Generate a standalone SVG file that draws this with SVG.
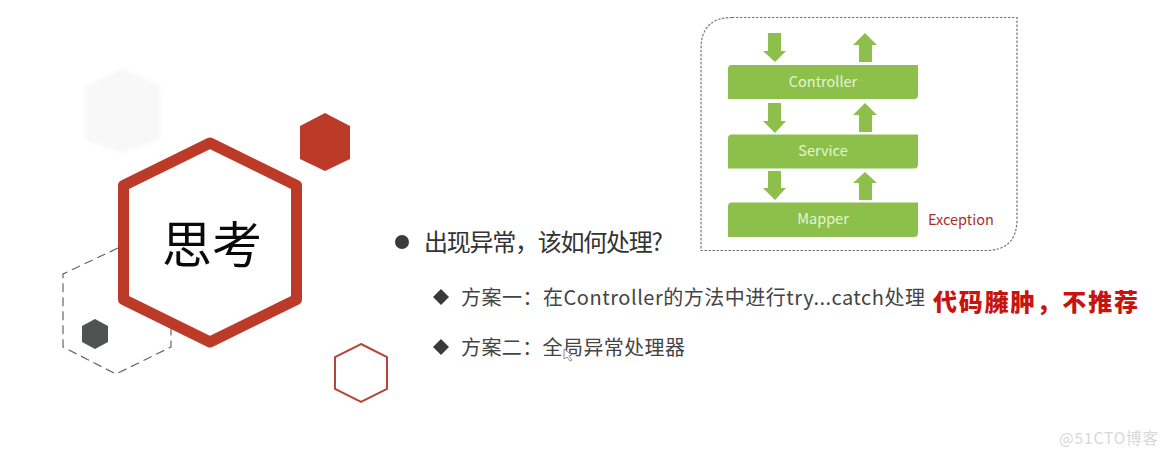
<svg xmlns="http://www.w3.org/2000/svg" width="1168" height="457" viewBox="0 0 1168 457">
<style>
text{font-family:"Noto Sans CJK SC","Noto Sans",sans-serif;text-spacing-trim:space-all}
.bar{fill:#8cc04b}
.arrow{fill:#8cc04b}
.bar-label{fill:#e4f5d0;font-size:14.5px;text-anchor:middle}
.main{fill:#333;font-size:24px}
.sub{fill:#444;font-size:20px}
.bullet{fill:#3a3a3a}
</style>
<defs>
<filter id="soft" x="-10%" y="-10%" width="120%" height="120%"><feGaussianBlur stdDeviation="2"/></filter>
</defs>
<rect width="1168" height="457" fill="#fff"/>
<g id="hex-light"><polygon points="122,68 160,86 160,140 122,153 85,140 85,86" fill="#f8f8f8" filter="url(#soft)"/></g>
<g id="hex-dashed"><polyline points="118,248 63,274 63,347 116,374 171,347 171,328" fill="none" stroke="#666" stroke-width="1.2" stroke-dasharray="9 5"/></g>
<g id="hex-dark"><polygon points="95,319 108,326 108,342 95,349 82,342 82,326" fill="#505352"/></g>
<g id="hex-main"><polygon points="210,143 296.500,185.500 296.500,299.500 210,342 123.500,299.500 123.500,185.500" fill="#fff" stroke="#bb3a28" stroke-width="11" stroke-linejoin="round"/>
<text x="212" y="263" font-size="50" text-anchor="middle" fill="#0a0a0a">思考</text></g>
<g id="hex-red"><polygon points="325,113 350,126 350,159 325,171 300,159 300,126" fill="#bb3a28"/></g>
<g id="hex-outline"><polygon points="361,344 387,357 387,389 361,402 335,389 335,357" fill="#fff" stroke="#b5443a" stroke-width="2"/></g>
<g id="panel"><path d="M732,17.500H1017V219Q1017,250.500 986,250.500H701V49Q701,17.500 732,17.500Z" fill="none" stroke="#777" stroke-width="1.200" stroke-dasharray="2.500 1.500"/></g>
<g id="connectors">
<polygon class="arrow" points="768,33 781,33 781,51 786,51 775,62 763,51 768,51"/>
<polygon class="arrow" points="768,103 781,103 781,121 786,121 775,133 763,121 768,121"/>
<polygon class="arrow" points="768,171 781,171 781,188 786,188 775,200 763,188 768,188"/>
<polygon class="arrow" points="865,33 877,45 872,45 872,62 859,62 859,45 853,45"/>
<polygon class="arrow" points="865,103 877,115 872,115 872,132 859,132 859,115 853,115"/>
<polygon class="arrow" points="865,172 877,183 872,183 872,200 859,200 859,183 853,183"/>
</g>
<g id="controller"><path class="bar" d="M732,65H918V95Q918,99 914,99H728V69Q728,65 732,65Z"/><text class="bar-label" x="823" y="86.500">Controller</text></g>
<g id="service"><path class="bar" d="M732,134.500H918V164.500Q918,168.500 914,168.500H728V138.500Q728,134.500 732,134.500Z"/><text class="bar-label" x="823" y="155.500">Service</text></g>
<g id="mapper"><path class="bar" d="M732,202.500H918V233Q918,237 914,237H728V206.500Q728,202.500 732,202.500Z"/><text class="bar-label" x="823" y="224">Mapper</text></g>
<text x="928" y="225" font-size="14.500" fill="#a8322a">Exception</text>
<g id="point-main"><circle cx="402" cy="242" r="7" class="bullet"/><text class="main" x="424" y="251" textLength="239">出现异常，该如何处理?</text></g>
<g id="point-1"><polygon class="bullet" points="441,289 449,297 441,305 433,297"/><text class="sub" x="461" y="305" textLength="464">方案一：在Controller的方法中进行try...catch处理</text>
<text x="933" y="311" font-size="24" font-weight="900" fill="#c8140c" textLength="205">代码臃肿，不推荐</text></g>
<g id="point-2"><polygon class="bullet" points="441,339 449,347 441,355 433,347"/><text class="sub" x="461" y="355" textLength="224">方案二：全局异常处理器</text></g>
<polygon points="564,349 564,359 567,357 570,361 572,360 569,356 572,355" fill="#fff" stroke="#777" stroke-width="0.800"/>
<text x="1059" y="444" font-size="15.500" fill="#d8d8d8" textLength="99">@51CTO博客</text>
</svg>
